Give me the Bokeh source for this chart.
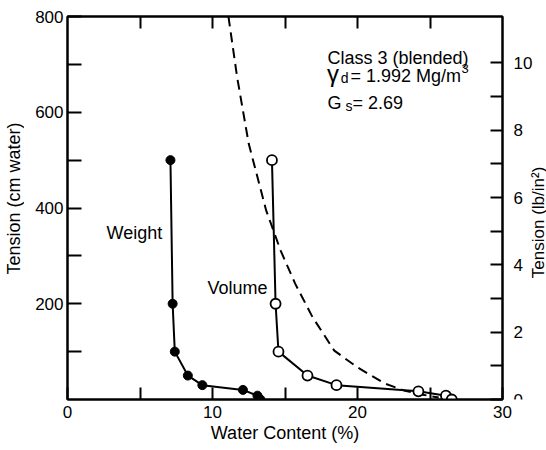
import math
from bokeh.plotting import figure
from bokeh.layouts import row
from bokeh.models import LinearAxis, Range1d, FixedTicker, Label
from bokeh.embed import file_html
from bokeh.resources import INLINE

# ---- data ----
weight_wc = [7.1, 7.25, 7.4, 8.3, 9.3, 12.1, 13.1, 13.3]
weight_t = [500, 200, 100, 50, 30, 20, 8, 0]
volume_wc = [14.1, 14.35, 14.55, 16.55, 18.55, 24.2, 26.1, 26.5]
volume_t = [500, 200, 100, 50, 30, 17, 8, 0]
dashed_wc = [11.1, 11.7, 12.5, 13.7, 14.7, 15.7, 16.9, 18.4, 20.0, 21.9, 23.2, 24.5, 25.6]
dashed_t = [800, 673, 534, 395, 311, 242, 172, 102, 67, 33, 19, 10, 4]

x_major = [0, 10, 20, 30]
x_minor = [5, 15, 25]
top_minor = [5, 10, 15, 20, 25]
y_major = [200, 400, 600, 800]
y_minor = [100, 300, 500, 700]
psi_major = [0, 2, 4, 6, 8, 10]
psi_minor = [1, 3, 5, 7, 9]
CM_PER_PSI = 70.31
Y_MAX = 800

FONT = "Liberation Sans"

# layout geometry (pixels)
H = 450
TOP, BOTTOM = 16, 51
LEFT_STRIP, RIGHT_STRIP = 24, 34
MAIN_W = 546 - LEFT_STRIP - RIGHT_STRIP
psi_max = Y_MAX / CM_PER_PSI

p = figure(width=MAIN_W, height=H, x_range=Range1d(0, 30), y_range=Range1d(0, Y_MAX),
           output_backend="svg", toolbar_location=None,
           min_border_left=43, min_border_right=10, min_border_top=TOP, min_border_bottom=BOTTOM)
p.grid.visible = False
p.outline_line_color = "black"
p.outline_line_width = 2
p.background_fill_color = "white"
p.border_fill_color = "white"


def style_axis(ax, tick_in, standoff):
    ax.axis_line_color = "black"
    ax.axis_line_width = 2
    ax.major_tick_line_width = 2
    ax.major_tick_line_color = "black"
    ax.major_tick_in = tick_in
    ax.major_tick_out = 0
    ax.minor_tick_line_width = 2
    ax.minor_tick_line_color = "black"
    ax.minor_tick_in = tick_in
    ax.minor_tick_out = 0
    ax.major_label_standoff = standoff
    ax.major_label_text_font = FONT
    ax.major_label_text_font_size = "17px"
    ax.major_label_text_color = "black"
    ax.axis_label_text_font = FONT
    ax.axis_label_text_font_size = "18px"
    ax.axis_label_text_font_style = "normal"
    ax.axis_label_text_color = "black"


xa = p.xaxis[0]
xa.ticker = FixedTicker(ticks=x_major, minor_ticks=x_minor)
style_axis(xa, 12, 6)
xa.axis_label = "Water Content (%)"
xa.axis_label_standoff = 2

ya = p.yaxis[0]
ya.ticker = FixedTicker(ticks=y_major, minor_ticks=y_minor)
style_axis(ya, 14, 4)

top = LinearAxis(ticker=FixedTicker(ticks=[], minor_ticks=top_minor))
style_axis(top, 12, 0)
p.add_layout(top, "above")

# right-hand psi axis: ticks on the main plot, labels in the right strip
p.extra_y_ranges = {"psi": Range1d(0, psi_max)}
ra = LinearAxis(y_range_name="psi", ticker=FixedTicker(ticks=[], minor_ticks=psi_major + psi_minor))
style_axis(ra, 12, 0)
p.add_layout(ra, "right")

# curves
p.line(dashed_wc, dashed_t, line_color="black", line_width=2, line_dash="10 6")
p.line(weight_wc, weight_t, line_color="black", line_width=2)
p.scatter(weight_wc, weight_t, size=9, fill_color="black", line_color="black")
p.line(volume_wc, volume_t, line_color="black", line_width=2)
p.scatter(volume_wc, volume_t, size=10, fill_color="white", line_color="black", line_width=1.8)


def lab(fig, x, y, text, size, align="left", baseline="alphabetic", angle=0.0):
    fig.add_layout(Label(x=x, y=y, text=text, text_font=FONT, text_font_size=size,
                         text_align=align, text_baseline=baseline, text_color="black",
                         angle=angle))


lab(p, 17.93, 714, "Class 3 (blended)", "18px")
lab(p, 17.9, 681, "γ", "24px")
lab(p, 18.85, 671, "d", "14px")
lab(p, 19.52, 676, "= 1.992 Mg/m", "18px")
lab(p, 27.17, 691, "3", "13px")
lab(p, 17.93, 620, "G", "18px")
lab(p, 19.17, 614, "s", "14px")
lab(p, 19.66, 620, "= 2.69", "18px")
lab(p, 2.69, 348, "Weight", "18px")
lab(p, 9.66, 232, "Volume", "18px")


def strip(width, y_hi):
    # frames in a row are aligned with the main plot's frame, so the same ranges apply
    s = figure(width=width, height=H, x_range=Range1d(0, width), y_range=Range1d(0, y_hi),
               output_backend="svg", toolbar_location=None, x_axis_type=None, y_axis_type=None,
               min_border_left=0, min_border_right=0, min_border_top=TOP, min_border_bottom=BOTTOM)
    s.grid.visible = False
    s.outline_line_color = None
    s.background_fill_color = "white"
    s.border_fill_color = "white"
    return s


# left strip: cm-water scale, carries the left axis title
p0 = strip(LEFT_STRIP, Y_MAX)
lab(p0, 13, 420, "Tension (cm water)", "18px", align="center", baseline="middle", angle=math.pi / 2)

# right strip: psi scale, carries the psi tick labels and the right axis title
p2 = strip(RIGHT_STRIP, psi_max)
for v in psi_major:
    lab(p2, 1, v, str(v), "17px", align="left", baseline="alphabetic" if v == 0 else "middle")
lab(p2, 25.5, 5.26, "Tension (lb/in²)", "17px", align="center", baseline="middle", angle=math.pi / 2)

layout = row(p0, p, p2, spacing=0)
open("out.html", "w").write(file_html(layout, INLINE))
